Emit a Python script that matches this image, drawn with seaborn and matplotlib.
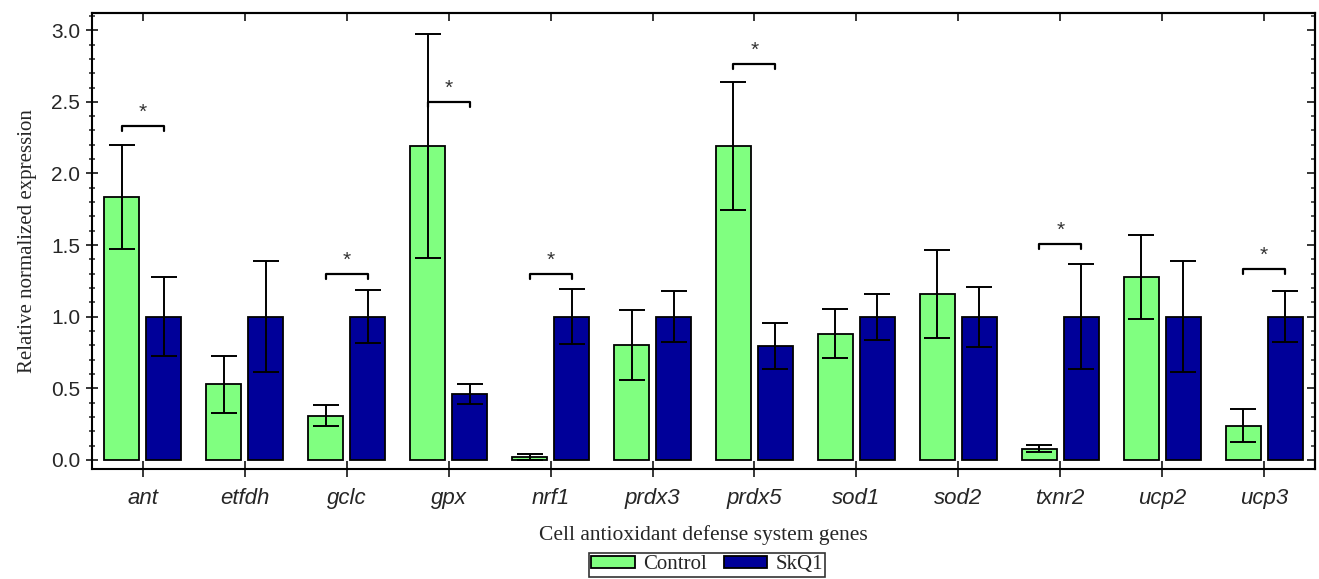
import matplotlib
matplotlib.use("Agg")
import matplotlib.pyplot as plt
from matplotlib.ticker import MultipleLocator
import seaborn as sns
import pandas as pd
import numpy as np

genes = ["ant", "etfdh", "gclc", "gpx", "nrf1", "prdx3", "prdx5", "sod1", "sod2", "txnr2", "ucp2", "ucp3"]
groups = ["Control", "SkQ1"]
control_mean = [1.835, 0.528, 0.309, 2.191, 0.019, 0.803, 2.191, 0.881, 1.156, 0.079, 1.279, 0.239]
control_err = [0.365, 0.200, 0.075, 0.783, 0.020, 0.244, 0.449, 0.172, 0.308, 0.025, 0.293, 0.117]
skq1_mean = [1.0, 1.0, 1.0, 0.460, 1.0, 1.0, 0.793, 1.0, 1.0, 1.0, 1.0, 1.0]
skq1_err = [0.277, 0.387, 0.185, 0.072, 0.190, 0.177, 0.160, 0.160, 0.209, 0.367, 0.388, 0.179]
# significance brackets: gene -> bracket height
sig_genes = ["ant", "gclc", "gpx", "nrf1", "prdx5", "txnr2", "ucp3"]
sig_heights = [2.33, 1.30, 2.496, 1.298, 2.761, 1.51, 1.333]

colors = ["#80FF80", "#000099"]

df = pd.DataFrame({
    "gene": genes * 2,
    "group": [groups[0]] * len(genes) + [groups[1]] * len(genes),
    "value": control_mean + skq1_mean,
    "err": control_err + skq1_err,
})

sns.set_style("white")
plt.rcParams["font.family"] = ["Liberation Sans", "DejaVu Sans"]

fig = plt.figure(figsize=(13.19, 5.79), dpi=100)
ax = fig.add_axes([0.0697, 0.19, 0.9273, 0.7875])

sns.barplot(data=df, x="gene", y="value", hue="group", order=genes, hue_order=groups,
            palette=colors, saturation=1, width=0.824, gap=0.167, errorbar=None,
            edgecolor="black", linewidth=1.3, ax=ax, legend=True, zorder=2)

# error bars at bar centres
n = len(genes)
patches = ax.patches[:2 * n]
centers = {}
for gi, grp in enumerate(groups):
    for i, g in enumerate(genes):
        p = patches[gi * n + i]
        cx = p.get_x() + p.get_width() / 2
        centers[(grp, g)] = cx
        m = control_mean[i] if gi == 0 else skq1_mean[i]
        e = control_err[i] if gi == 0 else skq1_err[i]
        ax.errorbar(cx, m, yerr=e, color="black", capsize=9.5, capthick=1.4,
                    elinewidth=1.4, fmt="none", zorder=3)

# significance brackets
drop = 0.035
for g, h in zip(sig_genes, sig_heights):
    x1 = centers[("Control", g)]
    x2 = centers[("SkQ1", g)]
    ax.plot([x1, x1, x2, x2], [h - drop, h, h, h - drop], color="black", lw=1.6, zorder=4)
    ax.text((x1 + x2) / 2, h + 0.03, "*", ha="center", va="bottom", fontsize=15,
            color="#333333", zorder=4)

ax.set_xlim(-0.5, 11.5)
ax.set_ylim(-0.063, 3.12)
ax.yaxis.set_major_locator(MultipleLocator(0.5))
ax.yaxis.set_minor_locator(MultipleLocator(0.1))
ax.set_yticks(np.arange(0, 3.01, 0.5))
ax.set_yticklabels([f"{v:.1f}" for v in np.arange(0, 3.01, 0.5)], fontsize=15)

ax.set_xticks(range(n))
ax.set_xticklabels(genes, fontsize=16, style="italic")

for s in ax.spines.values():
    s.set_visible(True)
    s.set_color("black")
    s.set_linewidth(1.5)

ax.tick_params(axis="y", which="major", direction="inout", length=9, width=1.3, left=True, right=False, pad=4)
ax.tick_params(axis="y", which="minor", direction="inout", length=5, width=1.1, left=True, right=False)
ax.tick_params(axis="x", which="major", direction="inout", length=11, width=1.3, bottom=True, top=False, pad=8)

# right and top ticks pointing in
ax_r = ax.secondary_yaxis("right")
ax_r.yaxis.set_major_locator(MultipleLocator(0.5))
ax_r.yaxis.set_minor_locator(MultipleLocator(0.1))
ax_r.tick_params(axis="y", which="major", direction="in", length=6, width=1.3, labelright=False)
ax_r.tick_params(axis="y", which="minor", direction="in", length=3, width=1.1)
ax_r.spines["right"].set_linewidth(1.5)
ax_t = ax.secondary_xaxis("top")
ax_t.set_xticks(range(n))
ax_t.tick_params(axis="x", which="major", direction="in", length=6, width=1.3, labeltop=False)
ax_t.spines["top"].set_linewidth(1.5)

serif = ["Liberation Serif", "DejaVu Serif"]
ax.set_ylabel("Relative normalized expression", fontsize=15, family=serif, labelpad=10)
ax.set_xlabel("Cell antioxidant defense system genes", fontsize=15.5, family=serif, labelpad=12)

leg = ax.legend(loc="center", bbox_to_anchor=(0.503, -0.2105), ncol=2, frameon=True,
                fancybox=False, edgecolor="black", prop={"family": serif, "size": 15},
                handlelength=2.1, handleheight=0.5, columnspacing=0.8, handletextpad=0.4,
                borderpad=0.1, borderaxespad=0)
leg.get_frame().set_linewidth(1.2)
for h in leg.legend_handles:
    h.set_edgecolor("black")
    h.set_linewidth(1.3)

fig.savefig("out.png", dpi=100)
